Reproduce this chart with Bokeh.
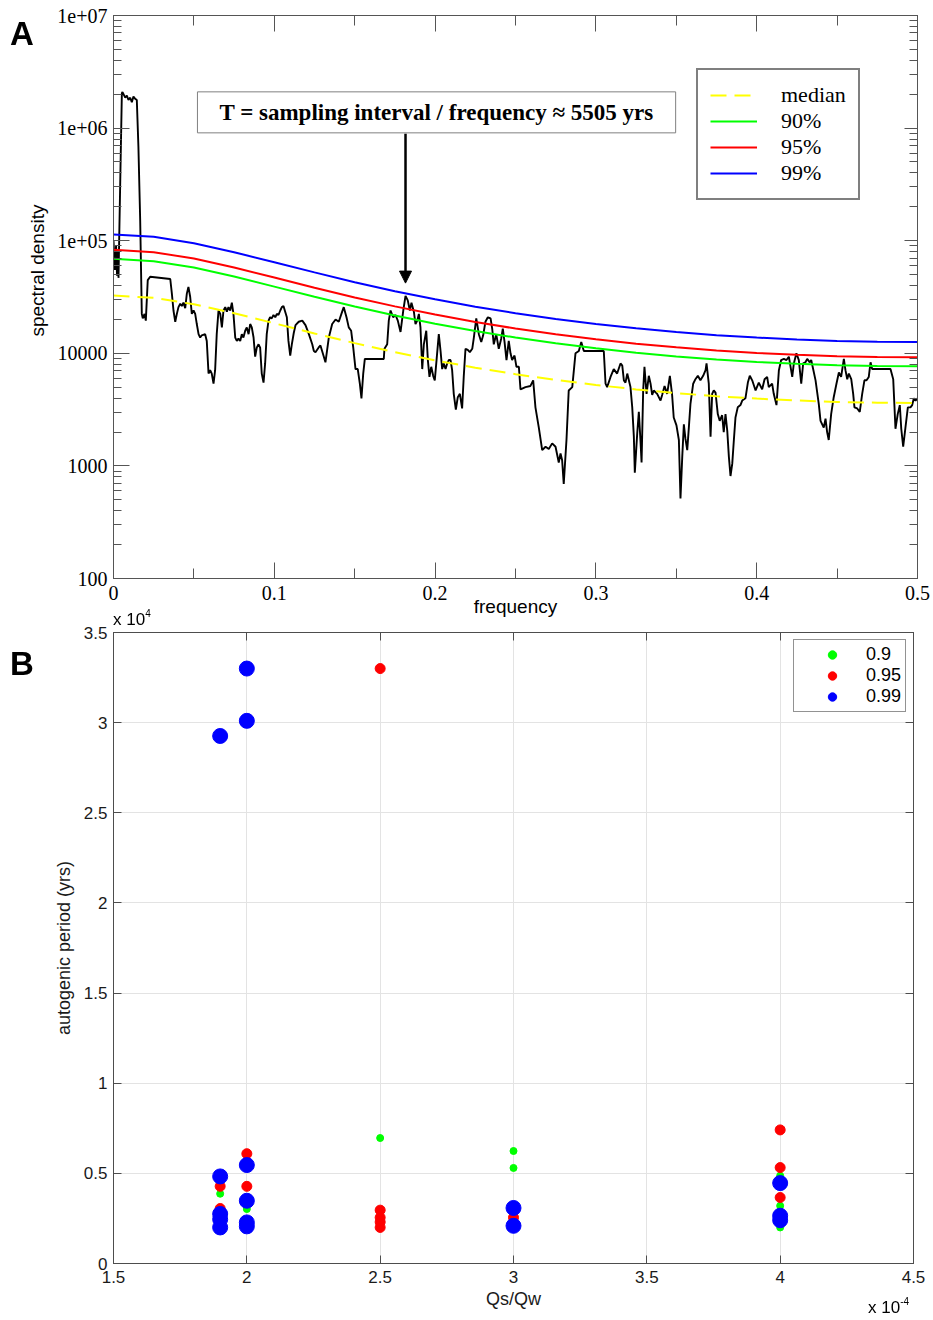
import numpy as np
from bokeh.plotting import figure
from bokeh.models import (Range1d, FixedTicker, LinearAxis, LogAxis, Label, Arrow,
                          NormalHead, Legend, LegendItem, CustomJSTickFormatter, Div)
from bokeh.layouts import column
from bokeh.embed import file_html
from bokeh.resources import INLINE

# ---------------- Panel A data ----------------
freq = [
    0.0000, 0.0009, 0.0016, 0.0022, 0.0028, 0.0031,
    0.0052, 0.0056, 0.0073, 0.0083, 0.0093, 0.0104, 0.0114, 0.0124, 0.0135, 0.0145,
    0.0155, 0.0166, 0.0176, 0.0182, 0.0193, 0.0201, 0.0213, 0.0228,
    0.0353, 0.0363, 0.0373, 0.0384, 0.0394, 0.0404, 0.0415, 0.0425, 0.0435, 0.0446, 0.0456, 0.0466, 0.0477, 0.0487, 0.0498, 0.0508,
    0.0518, 0.0529, 0.0539, 0.0549, 0.0570, 0.0580, 0.0591, 0.0601, 0.0611, 0.0622, 0.0632, 0.0642, 0.0653, 0.0664, 0.0674, 0.0684, 0.0695, 0.0705, 0.0715, 0.0726,
    0.0736, 0.0746, 0.0757, 0.0767, 0.0777, 0.0788, 0.0798, 0.0808, 0.0819, 0.0829, 0.0840, 0.0850, 0.0860, 0.0871, 0.0881, 0.0891, 0.0902, 0.0912, 0.0922, 0.0933,
    0.0943, 0.0953, 0.0964, 0.0974, 0.0984, 0.0995, 0.1006, 0.1016, 0.1026, 0.1037, 0.1047, 0.1057,
    0.1078, 0.1088, 0.1099, 0.1109, 0.1121, 0.1132, 0.1152, 0.1174, 0.1194, 0.1215, 0.1236, 0.1246, 0.1256, 0.1275, 0.1287, 0.1308, 0.1318,
    0.1339, 0.1360, 0.1381, 0.1401, 0.1422, 0.1432, 0.1449, 0.1463, 0.1478, 0.1491, 0.1505, 0.1519, 0.1532, 0.1542, 0.1553, 0.1563,
    0.1681, 0.1685, 0.1702, 0.1712, 0.1723, 0.1739, 0.1754, 0.1768, 0.1785, 0.1802, 0.1816, 0.1830, 0.1843, 0.1853, 0.1868, 0.1878, 0.1889, 0.1899, 0.1909,
    0.1920, 0.1930, 0.1945, 0.1955, 0.1965, 0.1976, 0.1988, 0.1998, 0.2009, 0.2023, 0.2034, 0.2044, 0.2054, 0.2065, 0.2075, 0.2085, 0.2096, 0.2106,
    0.2116, 0.2129, 0.2141, 0.2154, 0.2168, 0.2178, 0.2189, 0.2203, 0.2216, 0.2231, 0.2241, 0.2256, 0.2272, 0.2287, 0.2299, 0.2313, 0.2328, 0.2345,
    0.2355, 0.2365, 0.2380, 0.2396, 0.2411, 0.2421, 0.2432, 0.2444, 0.2458, 0.2469, 0.2479, 0.2494, 0.2506, 0.2521, 0.2531, 0.2562, 0.2593, 0.2610,
    0.2624, 0.2645, 0.2666, 0.2687, 0.2707, 0.2728, 0.2749, 0.2769, 0.2780, 0.2790, 0.2800, 0.2817, 0.2831, 0.2853, 0.2873, 0.2894, 0.2909, 0.2925,
    0.3049, 0.3060, 0.3070, 0.3091, 0.3111, 0.3132, 0.3153, 0.3164, 0.3174, 0.3184, 0.3195, 0.3215, 0.3226, 0.3236, 0.3242, 0.3257, 0.3267, 0.3277, 0.3284,
    0.3294, 0.3302, 0.3315, 0.3329, 0.3340, 0.3350, 0.3360, 0.3381, 0.3402, 0.3412, 0.3427, 0.3443, 0.3460, 0.3474, 0.3484, 0.3501, 0.3516,
    0.3526, 0.3537, 0.3547, 0.3557, 0.3568, 0.3578, 0.3588, 0.3605, 0.3619, 0.3634, 0.3650, 0.3667, 0.3682, 0.3688, 0.3702,
    0.3713, 0.3723, 0.3733, 0.3744, 0.3758, 0.3770, 0.3785, 0.3795, 0.3806, 0.3817, 0.3827, 0.3837, 0.3848, 0.3858, 0.3868, 0.3882, 0.3899, 0.3910, 0.3930,
    0.3945, 0.3957, 0.3972, 0.3993, 0.4013, 0.4034, 0.4049, 0.4065, 0.4075, 0.4096, 0.4106, 0.4123, 0.4138, 0.4152, 0.4169, 0.4185, 0.4200,
    0.4221, 0.4231, 0.4247, 0.4262, 0.4277, 0.4289, 0.4303, 0.4314, 0.4330, 0.4339, 0.4351, 0.4366, 0.4386, 0.4397, 0.4417, 0.4428, 0.4438, 0.4448,
    0.4463, 0.4479, 0.4496, 0.4511, 0.4525, 0.4542, 0.4552, 0.4563, 0.4573, 0.4588, 0.4600, 0.4608, 0.4625, 0.4641, 0.4656, 0.4670, 0.4683, 0.4697, 0.4708, 0.4718,
    0.4832, 0.4849, 0.4863, 0.4877, 0.4890, 0.4899, 0.4911, 0.4925, 0.4940, 0.4956, 0.4967, 0.4977, 0.4988, 0.4998,
]

spectral_density_log10 = [
    5.00, 4.74, 4.96, 4.69, 4.91, 4.67,
    6.31, 6.32, 6.27, 6.29, 6.25, 6.27, 6.23, 6.28, 6.26, 6.25,
    5.83, 5.18, 4.35, 4.31, 4.35, 4.29, 4.65, 4.68,
    4.66, 4.53, 4.38, 4.28, 4.35, 4.41, 4.44, 4.42, 4.45, 4.40, 4.53, 4.59, 4.50, 4.35, 4.38, 4.35,
    4.26, 4.17, 4.14, 4.16, 4.17, 4.11, 3.82, 3.85, 3.82, 3.73, 3.85, 4.17, 4.38, 4.35, 4.23, 4.38, 4.41, 4.37, 4.41, 4.38,
    4.45, 4.35, 4.14, 4.11, 4.13, 4.11, 4.17, 4.14, 4.20, 4.23, 4.17, 4.26, 4.23, 4.14, 3.97, 4.05, 4.08, 4.05, 3.82, 3.74,
    3.91, 4.17, 4.29, 4.32, 4.31, 4.34, 4.32, 4.35, 4.34, 4.38, 4.41, 4.42,
    4.32, 4.11, 3.98, 4.08, 4.18, 4.25, 4.28, 4.29, 4.25, 4.17, 4.08, 4.02, 4.01, 4.05, 4.07, 3.97, 3.92,
    4.14, 4.26, 4.30, 4.28, 4.37, 4.41, 4.32, 4.23, 4.20, 4.05, 3.86, 3.86, 3.73, 3.60, 3.82, 3.95,
    3.95, 4.04, 4.08, 4.29, 4.38, 4.32, 4.34, 4.29, 4.19, 4.38, 4.51, 4.47, 4.38, 4.45, 4.37, 4.26, 4.29, 4.35, 4.23,
    3.86, 4.08, 4.20, 3.94, 3.79, 3.88, 3.80, 3.76, 3.94, 4.17, 4.02, 3.86, 3.91, 3.86, 3.91, 3.94, 3.94, 3.85,
    3.64, 3.50, 3.61, 3.64, 3.51, 3.79, 4.04, 4.03, 4.01, 4.04, 4.14, 4.31, 4.17, 4.10, 4.16, 4.28, 4.32, 4.31,
    4.22, 4.08, 4.17, 4.04, 4.13, 4.22, 4.10, 3.94, 4.11, 4.00, 3.94, 3.98, 3.88, 3.88, 3.68, 3.70, 3.71, 3.76,
    3.52, 3.34, 3.14, 3.17, 3.15, 3.20, 3.17, 3.03, 3.11, 3.05, 2.84, 3.23, 3.67, 3.70, 4.00, 4.02, 4.10, 4.02,
    4.02, 3.73, 3.70, 3.79, 3.86, 3.82, 3.91, 3.89, 3.76, 3.74, 3.82, 3.70, 3.52, 3.26, 2.94, 3.29, 3.48, 3.23, 3.03,
    3.67, 3.88, 3.64, 3.80, 3.73, 3.63, 3.67, 3.64, 3.58, 3.63, 3.71, 3.64, 3.80, 3.63, 3.43, 3.36, 3.23,
    2.71, 3.08, 3.37, 3.24, 3.14, 3.34, 3.55, 3.73, 3.77, 3.80, 3.76, 3.80, 3.85, 3.91, 3.73,
    3.26, 3.64, 3.67, 3.65, 3.46, 3.40, 3.45, 3.30, 3.46, 3.31, 3.08, 2.91, 3.02, 3.23, 3.43, 3.52, 3.54, 3.58, 3.60,
    3.74, 3.80, 3.76, 3.67, 3.74, 3.68, 3.77, 3.79, 3.70, 3.73, 3.64, 3.54, 3.85, 3.94, 3.95, 3.94, 3.97,
    3.79, 3.91, 4.00, 3.94, 3.73, 3.91, 3.92, 3.95, 3.92, 3.94, 3.86, 3.76, 3.55, 3.40, 3.34, 3.42, 3.30, 3.23,
    3.46, 3.61, 3.73, 3.83, 3.79, 3.95, 3.85, 3.77, 3.82, 3.77, 3.64, 3.52, 3.51, 3.48, 3.64, 3.76, 3.76, 3.79, 3.92, 3.86,
    3.86, 3.77, 3.33, 3.46, 3.54, 3.33, 3.17, 3.34, 3.52, 3.52, 3.54, 3.60, 3.58, 3.60,
]

ci_freq = [0.0, 0.025, 0.05, 0.075, 0.1, 0.125, 0.15, 0.175, 0.2, 0.225, 0.25,
           0.275, 0.3, 0.325, 0.35, 0.375, 0.4, 0.425, 0.45, 0.475, 0.5]
median_level = [32600, 31070, 27250, 22690, 18480, 15010, 12310, 10240, 8660, 7450, 6520,
                5800, 5230, 4780, 4430, 4160, 3960, 3810, 3700, 3640, 3620]
level_90 = [69000, 65800, 57700, 48000, 39100, 31800, 26000, 21700, 18330, 15770, 13800,
            12270, 11070, 10120, 9380, 8810, 8380, 8060, 7840, 7710, 7670]
level_95 = [83000, 79100, 69400, 57800, 47100, 38200, 31300, 26100, 22100, 19000, 16600,
            14760, 13310, 12180, 11290, 10600, 10080, 9690, 9430, 9270, 9220]
level_99 = [113500, 108200, 94900, 79000, 64400, 52300, 42800, 35600, 30200, 25900, 22700,
            20200, 18200, 16650, 15440, 14490, 13780, 13260, 12890, 12680, 12610]
ci_labels = ["median", "90%", "95%", "99%"]

a_xticks = [0.0, 0.1, 0.2, 0.3, 0.4, 0.5]
a_xtick_labels = ["0", "0.1", "0.2", "0.3", "0.4", "0.5"]
a_xminor = [0.05, 0.15, 0.25, 0.35, 0.45]
a_yticks = [100, 1000, 10000, 100000, 1000000, 10000000]
a_ytick_labels = ["100", "1000", "10000", "1e+05", "1e+06", "1e+07"]
a_xlabel = "frequency"
a_ylabel = "spectral density"

annot_text = "T = sampling interval / frequency \u2248 5505 yrs"
annot_freq = 0.1816

# ---------------- Panel B data ----------------
qsqw_90 = [1.9, 2.0, 2.5, 3.0, 3.0, 4.0, 4.0, 4.0]
period_90 = [0.387, 0.302, 0.696, 0.624, 0.530, 0.487, 0.320, 0.200]
qsqw_95 = [1.9, 1.9, 2.0, 2.0, 2.5, 2.5, 2.5, 2.5, 2.5, 3.0, 4.0, 4.0, 4.0]
period_95 = [0.428, 0.305, 0.609, 0.428, 3.300, 0.296, 0.255, 0.230, 0.200, 0.255, 0.741, 0.532, 0.366]
qsqw_99 = [1.9, 1.9, 1.9, 1.9, 1.9, 2.0, 2.0, 2.0, 2.0, 2.0, 2.0, 3.0, 3.0, 4.0, 4.0, 4.0]
period_99 = [2.926, 0.483, 0.275, 0.245, 0.200, 3.300, 3.010, 0.546, 0.348, 0.228, 0.206,
             0.308, 0.209, 0.446, 0.265, 0.240]
b_labels = ["0.9", "0.95", "0.99"]

b_xticks = [1.5, 2.0, 2.5, 3.0, 3.5, 4.0, 4.5]
b_xtick_labels = ["1.5", "2", "2.5", "3", "3.5", "4", "4.5"]
b_yticks = [0.0, 0.5, 1.0, 1.5, 2.0, 2.5, 3.0, 3.5]
b_ytick_labels = ["0", "0.5", "1", "1.5", "2", "2.5", "3", "3.5"]
b_xlabel = "Qs/Qw"
b_ylabel = "autogenic period (yrs)"

panel_letters = ["A", "B"]
b_y_multiplier = ("x 10", "4")
b_x_multiplier = ("x 10", "-4")


def tick_formatter(values, labels):
    return CustomJSTickFormatter(args=dict(vals=list(values), labs=list(labels)), code="""
        for (let i = 0; i < vals.length; i++) {
            if (Math.abs(vals[i] - tick) <= 1e-9 * Math.max(1, Math.abs(vals[i]))) { return labs[i]; }
        }
        return "";
    """)


BLANK = CustomJSTickFormatter(code="return '';")


def style_axis(ax, color, major_in, minor_in, font, size, show_labels=True, standoff=6):
    ax.axis_line_color = color
    ax.axis_line_width = 1
    ax.major_tick_line_color = color
    ax.minor_tick_line_color = color
    ax.major_tick_in = major_in
    ax.major_tick_out = 0
    ax.minor_tick_in = minor_in
    ax.minor_tick_out = 0
    ax.major_label_text_font = font
    ax.major_label_text_color = "black"
    ax.major_label_text_font_size = size
    ax.major_label_standoff = standoff
    if not show_labels:
        ax.formatter = BLANK
        ax.major_label_text_font_size = "1px"
        ax.major_label_text_color = None
        ax.major_label_standoff = 0


# ---------------- Figure A ----------------
AX_A = "#555555"
pa = figure(frame_width=804, frame_height=563, y_axis_type="log",
            x_range=Range1d(0, 0.5), y_range=Range1d(100, 1e7),
            output_backend="svg", toolbar_location=None,
            min_border_left=113, min_border_right=16, min_border_top=15, min_border_bottom=43)
pa.grid.visible = False
pa.outline_line_color = AX_A
pa.background_fill_color = "white"
pa.border_fill_color = "white"

a_y_minor = [d * k for d in a_yticks[:-1] for k in range(2, 10)]
xt_a = FixedTicker(ticks=a_xticks, minor_ticks=a_xminor)
yt_a = FixedTicker(ticks=a_yticks, minor_ticks=a_y_minor)

xa = pa.xaxis[0]
xa.ticker = xt_a
xa.formatter = tick_formatter(a_xticks, a_xtick_labels)
style_axis(xa, AX_A, 16, 10, "Liberation Serif", "20px", True, 7)
xa.axis_label = a_xlabel
xa.axis_label_text_font = "Liberation Sans"
xa.axis_label_text_font_size = "19px"
xa.axis_label_text_font_style = "normal"
xa.axis_label_text_color = "black"
xa.axis_label_standoff = -7

ya = pa.yaxis[0]
ya.ticker = yt_a
ya.formatter = tick_formatter(a_yticks, a_ytick_labels)
style_axis(ya, AX_A, 16, 8, "Liberation Serif", "20px", True, 6)
# leading no-break spaces shift the centred label upwards, as in the original
ya.axis_label = "\u00a0" * 10 + a_ylabel
ya.axis_label_text_font = "Liberation Sans"
ya.axis_label_text_font_size = "19px"
ya.axis_label_text_font_style = "normal"
ya.axis_label_text_color = "black"
ya.axis_label_standoff = 6

top_a = LinearAxis(ticker=xt_a)
style_axis(top_a, AX_A, 16, 10, "Liberation Serif", "20px", False)
pa.add_layout(top_a, "above")
right_a = LogAxis(ticker=yt_a)
style_axis(right_a, AX_A, 13, 8, "Liberation Serif", "20px", False)
pa.add_layout(right_a, "right")

n = min(len(freq), len(spectral_density_log10))
density = 10.0 ** np.array(spectral_density_log10[:n])
pa.line(freq[:n], density, line_color="black", line_width=1.9)

r_med = pa.line(ci_freq, median_level, line_color="#ffff00", line_width=2, line_dash="16 8")
r_90 = pa.line(ci_freq, level_90, line_color="#00ff00", line_width=2)
r_95 = pa.line(ci_freq, level_95, line_color="#ff0000", line_width=2)
r_99 = pa.line(ci_freq, level_99, line_color="#0000ff", line_width=2)

leg_a = Legend(items=[LegendItem(label=lab, renderers=[r]) for lab, r in
                      zip(ci_labels, [r_med, r_90, r_95, r_99])],
               location=(583, 378), border_line_color="black", border_line_width=2,
               label_text_font="Liberation Serif", label_text_font_size="22px",
               label_text_color="black",
               glyph_width=47, glyph_height=24, label_height=24, label_standoff=24,
               padding=12, spacing=0, margin=0,
               background_fill_color="white", background_fill_alpha=1.0)
pa.add_layout(leg_a)

pa.add_layout(Label(x=0.2009, y=1.38e6, text=annot_text,
                    text_font="Liberation Serif", text_font_style="bold", text_font_size="23px",
                    text_color="black", text_align="center", text_baseline="middle",
                    border_line_color="#808080", border_line_width=1,
                    background_fill_color="white", padding=(22, 8)))
pa.add_layout(Arrow(end=NormalHead(size=12, fill_color="black", line_color="black"),
                    x_start=annot_freq, y_start=8.9e5, x_end=annot_freq, y_end=4.2e4,
                    line_color="black", line_width=2.5))

# ---------------- Figure B ----------------
AX_B = "#4d4d4d"
pb = figure(frame_width=800, frame_height=631,
            x_range=Range1d(1.5, 4.5), y_range=Range1d(0, 3.5),
            output_backend="svg", toolbar_location=None,
            min_border_left=113, min_border_right=20, min_border_top=11, min_border_bottom=57)
pb.outline_line_color = AX_B
pb.background_fill_color = "white"
pb.border_fill_color = "white"

xt_b = FixedTicker(ticks=b_xticks, minor_ticks=[])
yt_b = FixedTicker(ticks=b_yticks, minor_ticks=[])

xb = pb.xaxis[0]
xb.ticker = xt_b
xb.formatter = tick_formatter(b_xticks, b_xtick_labels)
style_axis(xb, AX_B, 8, 0, "Liberation Sans", "17px", True, 7)
xb.major_label_text_color = "#1a1a1a"
xb.axis_label = b_xlabel
xb.axis_label_text_font = "Liberation Sans"
xb.axis_label_text_font_size = "18px"
xb.axis_label_text_font_style = "normal"
xb.axis_label_text_color = "#1a1a1a"
xb.axis_label_standoff = 3

yb = pb.yaxis[0]
yb.ticker = yt_b
yb.formatter = tick_formatter(b_yticks, b_ytick_labels)
style_axis(yb, AX_B, 8, 0, "Liberation Sans", "17px", True, 6)
yb.major_label_text_color = "#1a1a1a"
yb.axis_label = b_ylabel
yb.axis_label_text_font = "Liberation Sans"
yb.axis_label_text_font_size = "18px"
yb.axis_label_text_font_style = "normal"
yb.axis_label_text_color = "#1a1a1a"
yb.axis_label_standoff = 7

top_b = LinearAxis(ticker=xt_b)
style_axis(top_b, AX_B, 8, 0, "Liberation Sans", "17px", False)
pb.add_layout(top_b, "above")
right_b = LinearAxis(ticker=yt_b)
style_axis(right_b, AX_B, 8, 0, "Liberation Sans", "17px", False)
pb.add_layout(right_b, "right")

pb.xgrid.ticker = xt_b
pb.ygrid.ticker = yt_b
pb.grid.grid_line_color = "#e3e3e3"
pb.grid.grid_line_width = 1

s90 = pb.scatter(qsqw_90, period_90, size=7, fill_color="#00ff00", line_color="#00ff00")
s95 = pb.scatter(qsqw_95, period_95, size=10, fill_color="#ff0000", line_color="#ff0000")
s99 = pb.scatter(qsqw_99, period_99, size=15, fill_color="#0000ff", line_color="#0000ff")

leg_b = Legend(items=[LegendItem(label=lab, renderers=[r]) for lab, r in
                      zip(b_labels, [s90, s95, s99])],
               location=(680, 551), border_line_color="#262626", border_line_width=1,
               label_text_font="Liberation Sans", label_text_font_size="18px",
               label_text_color="black",
               glyph_width=68, glyph_height=21, label_height=21, label_standoff=0,
               padding=4, spacing=0, margin=0,
               background_fill_color="white", background_fill_alpha=1.0)
pb.add_layout(leg_b)

# ---------------- texts outside the plot frames (fixed-position HTML overlay) ----------------
def abs_text(left, top, html, size, weight="normal"):
    return ('<div style="position:fixed;left:%dpx;top:%dpx;font-family:\'Liberation Sans\',Arial,sans-serif;'
            'font-size:%dpx;line-height:1;font-weight:%s;color:#000;white-space:nowrap;z-index:20;">%s</div>'
            % (left, top, size, weight, html))


def sup(t):
    return '<span style="position:relative;top:-8px;font-size:10px;">%s</span>' % t


overlay_html = (
    abs_text(10, 17, panel_letters[0], 33, "bold")
    + abs_text(10, 647, panel_letters[1], 33, "bold")
    + abs_text(113, 611, b_y_multiplier[0] + sup(b_y_multiplier[1]), 17)
    + abs_text(868, 1299, b_x_multiplier[0] + sup(b_x_multiplier[1]), 17)
)
overlay = Div(text=overlay_html, width=933, height=0, margin=0,
              styles={"overflow": "visible", "z-index": "10"})

layout = column(overlay, pa, pb, spacing=0)
open("out.html", "w").write(file_html(layout, INLINE))
